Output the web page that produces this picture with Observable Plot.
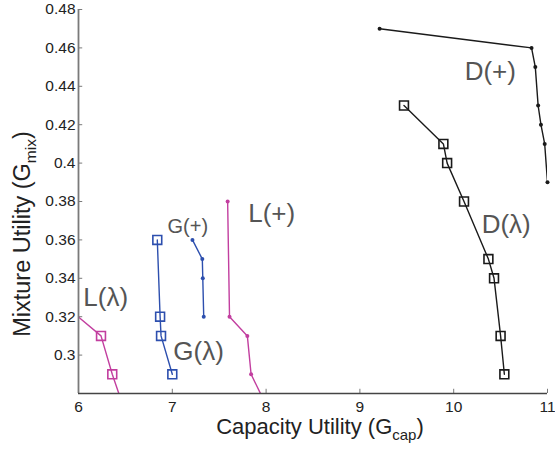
<!DOCTYPE html>
<html>
<head>
<meta charset="utf-8">
<script src="https://cdn.jsdelivr.net/npm/d3@7"></script>
<script src="https://cdn.jsdelivr.net/npm/@observablehq/plot@0.6"></script>
<style>
  html, body { margin: 0; padding: 0; background: #fff; }
  #chart svg { display: block; }
</style>
</head>
<body>
<div id="chart"></div>
<script>
// ---- data ----
const xTicks = [6, 7, 8, 9, 10, 11];
const yTicks = [0.30, 0.32, 0.34, 0.36, 0.38, 0.40, 0.42, 0.44, 0.46, 0.48];
const xDomain = [6, 11];
const yDomain = [0.28, 0.48];

const dPlusX = [9.21, 10.83, 10.87, 10.90, 10.93, 10.97, 11.0];
const dPlusY = [0.47, 0.46, 0.45, 0.43, 0.42, 0.41, 0.39];
const dLamX  = [9.47, 9.89, 9.93, 10.11, 10.37, 10.43, 10.50, 10.54];
const dLamY  = [0.43, 0.41, 0.40, 0.38, 0.35, 0.34, 0.31, 0.29];
const gLamX  = [6.84, 6.87, 6.88, 7.0];
const gLamY  = [0.36, 0.32, 0.31, 0.29];
const gPlusX = [7.215, 7.32, 7.325, 7.335];
const gPlusY = [0.36, 0.35, 0.34, 0.32];
const lLamX  = [5.75, 6.24, 6.36, 6.5];
const lLamY  = [0.33, 0.31, 0.29, 0.27];
const lPlusX = [7.59, 7.61, 7.80, 7.84, 8.04];
const lPlusY = [0.38, 0.32, 0.31, 0.29, 0.27];

const labelNames = ["D(+)", "D(λ)", "L(+)", "L(λ)", "G(λ)", "G(+)"];
const labelX = [10.39, 10.56, 8.06, 6.29, 7.28, 7.165];
const labelY = [0.4475, 0.368, 0.3737, 0.330, 0.3019, 0.367];
const labelSize = [26, 26, 26, 26, 26, 20];

const BLACK = "#1a1a1a", BLUE = "#2d4fae", MAGENTA = "#c23e9f";

const series = [
  {name: "D(+)", xs: dPlusX, ys: dPlusY, color: BLACK, marker: "dot"},
  {name: "D(λ)", xs: dLamX, ys: dLamY, color: BLACK, marker: "square"},
  {name: "G(λ)", xs: gLamX, ys: gLamY, color: BLUE, marker: "square"},
  {name: "G(+)", xs: gPlusX, ys: gPlusY, color: BLUE, marker: "dot"},
  {name: "L(λ)", xs: lLamX, ys: lLamY, color: MAGENTA, marker: "square"},
  {name: "L(+)", xs: lPlusX, ys: lPlusY, color: MAGENTA, marker: "dot"}
];

const toRows = s => s.xs.map((x, i) => ({x, y: s.ys[i]}));
const inView = d => d.x >= xDomain[0] && d.x <= xDomain[1] && d.y >= yDomain[0] && d.y <= yDomain[1];
const labels = labelNames.map((t, i) => ({t, x: labelX[i], y: labelY[i], s: labelSize[i]}));

const FONT = "'Liberation Sans', Arial, Helvetica, sans-serif";
const AXIS = "#7a7a7a";

const marks = [];
for (const s of series) {
  const rows = toRows(s);
  const visible = rows.filter(inView);
  marks.push(Plot.line(rows, {x: "x", y: "y", stroke: s.color, strokeWidth: 1.4, clip: true}));
  if (s.marker === "square") {
    marks.push(Plot.dot(visible, {x: "x", y: "y", symbol: "square", r: 5, stroke: s.color, strokeWidth: 1.6, fill: "none"}));
  } else {
    marks.push(Plot.dot(visible, {x: "x", y: "y", r: 2, fill: s.color, stroke: "none"}));
  }
}

const chart = Plot.plot({
  width: 555,
  height: 449,
  marginLeft: 78,
  marginRight: 8,
  marginTop: 9,
  marginBottom: 56,
  style: {fontFamily: FONT, background: "#fff", overflow: "visible"},
  x: {domain: xDomain, label: null},
  y: {domain: yDomain, label: null},
  marks: [
    Plot.axisX(xTicks, {tickSize: 0, tickPadding: 7, fontSize: 15.5, fill: "#222", label: null}),
    Plot.axisY(yTicks, {tickSize: 0, tickPadding: 3, fontSize: 15.5, fill: "#222", label: null,
      tickFormat: d => String(+d.toFixed(2))}),
    // inward tick marks
    Plot.ruleX(xTicks, {x: d => d, y1: yDomain[0], y2: yDomain[0] + 0.0022, stroke: AXIS, strokeWidth: 1}),
    Plot.ruleY(yTicks, {y: d => d, x1: xDomain[0], x2: xDomain[0] + 0.045, stroke: AXIS, strokeWidth: 1}),
    ...marks,
    Plot.ruleX([xDomain[0]], {stroke: AXIS, strokeWidth: 1.8}),
    Plot.ruleY([yDomain[0]], {stroke: "#444", strokeWidth: 1.5}),
    Plot.text(labels, {x: "x", y: "y", text: "t", fontSize: d => d.s, fill: "#555", textAnchor: "middle", lineAnchor: "middle"})
  ]
});

document.getElementById("chart").appendChild(chart);

// axis titles with subscripts
const svg = d3.select(chart);
const xt = svg.append("text")
  .attr("x", 320).attr("y", 434)
  .attr("text-anchor", "middle")
  .attr("font-family", FONT).attr("font-size", 22).attr("fill", "#222");
xt.append("tspan").text("Capacity Utility (G");
xt.append("tspan").attr("font-size", 15).attr("dy", 6).text("cap");
xt.append("tspan").attr("dy", -6).text(")");

const yt = svg.append("text")
  .attr("transform", "translate(30,234) rotate(-90)")
  .attr("text-anchor", "middle")
  .attr("font-family", FONT).attr("font-size", 23.5).attr("fill", "#222");
yt.append("tspan").text("Mixture Utility (G");
yt.append("tspan").attr("font-size", 15.5).attr("dy", 6).text("mix");
yt.append("tspan").attr("dy", -6).text(")");
</script>
</body>
</html>
